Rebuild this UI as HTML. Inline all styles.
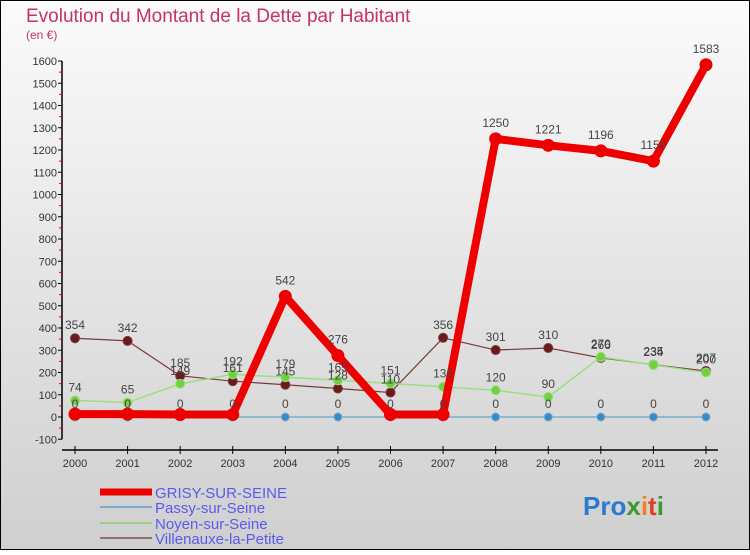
<!DOCTYPE html>
<html><head><meta charset="utf-8"><style>
html,body{margin:0;padding:0}
body{width:750px;height:550px;overflow:hidden;font-family:"Liberation Sans",sans-serif}
svg text{font-family:"Liberation Sans",sans-serif}
</style></head><body>
<svg id="chart" width="750" height="550" xmlns="http://www.w3.org/2000/svg">
<defs><linearGradient id="bg" x1="0" y1="0" x2="0" y2="1"><stop offset="0" stop-color="#fbfbfb"/><stop offset="1" stop-color="#cfcfcf"/></linearGradient></defs>
<rect x="0.5" y="0.5" width="749" height="549" fill="url(#bg)" stroke="#000"/>
<text x="26" y="22" font-size="19" fill="#c8306a">Evolution du Montant de la Dette par Habitant</text>
<text x="26" y="39" font-size="12" fill="#c8306a">(en €)</text>
<g id="axes"></g><g id="series"></g><g id="labels"></g>
<g>
<line x1="100" y1="492" x2="152" y2="492" stroke="#e00" stroke-width="7"/>
<text x="155" y="498" font-size="15" fill="#5a5aee">GRISY-SUR-SEINE</text>
<line x1="100" y1="507" x2="152" y2="507" stroke="#7aaccc" stroke-width="2"/>
<text x="155" y="513" font-size="15" fill="#5a5aee">Passy-sur-Seine</text>
<line x1="100" y1="523" x2="152" y2="523" stroke="#9ad080" stroke-width="2"/>
<text x="155" y="529" font-size="15" fill="#5a5aee">Noyen-sur-Seine</text>
<line x1="100" y1="538" x2="152" y2="538" stroke="#987070" stroke-width="2"/>
<text x="155" y="544" font-size="15" fill="#5a5aee">Villenauxe-la-Petite</text>
</g>
<text x="583" y="515" font-size="26" font-weight="bold"><tspan fill="#2a7ad0">Pro</tspan><tspan fill="#3a9a30">x</tspan><tspan fill="#f08020">i</tspan><tspan fill="#e04020">t</tspan><tspan fill="#3a9a30">i</tspan></text>
</svg>
<script>
const years=[2000,2001,2002,2003,2004,2005,2006,2007,2008,2009,2010,2011,2012];
const yTicks=[-100,0,100,200,300,400,500,600,700,800,900,1000,1100,1200,1300,1400,1500,1600];
const grisy=[13,13,11,11,542,276,11,11,1250,1221,1196,1150,1583];
const passy=[0,0,0,0,0,0,0,0,0,0,0,0,0];
const noyen=[74,65,149,192,179,165,151,136,120,90,270,234,200];
const villenauxe=[354,342,185,161,145,128,110,356,301,310,266,235,207];
const NS="http://www.w3.org/2000/svg";
const X=i=>75+i*(706-75)/(years.length-1);
const Y=v=>417-v*(417-61)/1600;
function mk(t,a,p){const e=document.createElementNS(NS,t);for(const k in a)e.setAttribute(k,a[k]);p.appendChild(e);return e;}
const ax=document.getElementById('axes'),se=document.getElementById('series'),lb=document.getElementById('labels');
const yl=mk('line',{x1:62,y1:Y(1600),x2:62,y2:Y(-100),stroke:'#000','stroke-width':1.5},ax);


yTicks.forEach(t=>{
 mk('line',{x1:58,y1:Y(t),x2:62,y2:Y(t),stroke:'#000'},ax);
 if(t<1600)mk('line',{x1:59,y1:Y(t+50),x2:62,y2:Y(t+50),stroke:'#e00'},ax);
 const tx=mk('text',{x:57,y:Y(t)+4,'font-size':11,'text-anchor':'end',fill:'#333'},ax);
 tx.textContent=t;
 
 
});
const xl=mk('line',{x1:62,y1:450,x2:718,y2:450,stroke:'#000','stroke-width':1.5},ax);


years.forEach((y,i)=>{
 mk('line',{x1:X(i),y1:446,x2:X(i),y2:454,stroke:'#000'},ax);
 const tx=mk('text',{x:X(i),y:467,'font-size':11,'text-anchor':'middle',fill:'#333'},ax);
 tx.textContent=y;
 
 
});
function series(d,name,col,w,r,dot,lab){
 const pl=mk('polyline',{points:d.map((v,i)=>X(i)+','+Y(v)).join(' '),fill:'none',stroke:col,'stroke-width':w,'stroke-linejoin':'round'},se);
 
 
 d.forEach((v,i)=>{
  const c=mk('circle',{cx:X(i),cy:Y(v),r:r,fill:dot,stroke:col,'stroke-width':1},se);
  
  
  if(lab){const t=mk('text',{x:X(i),y:Y(v)-9,'font-size':12,'text-anchor':'middle',fill:'#444'},lb);
  t.textContent=v;
  
  }
 });
}
series(villenauxe,'villenauxe','#7a3a3a',1.2,4.5,'#6a1a1a',true);
series(noyen,'noyen','#9ae080',1.5,4.5,'#70d040',true);
series(passy,'passy','#7aaccc',1.5,4,'#3a8ac8',true);
series(grisy,'grisy','#ee0000',8,6,'#ee0000',false);
grisy.forEach((v,i)=>{if(v>100){const t=mk('text',{x:X(i),y:Y(v)-12,'font-size':12,'text-anchor':'middle',fill:'#444'},lb);
 t.textContent=v;
 
 }});
</script>
</body></html>
